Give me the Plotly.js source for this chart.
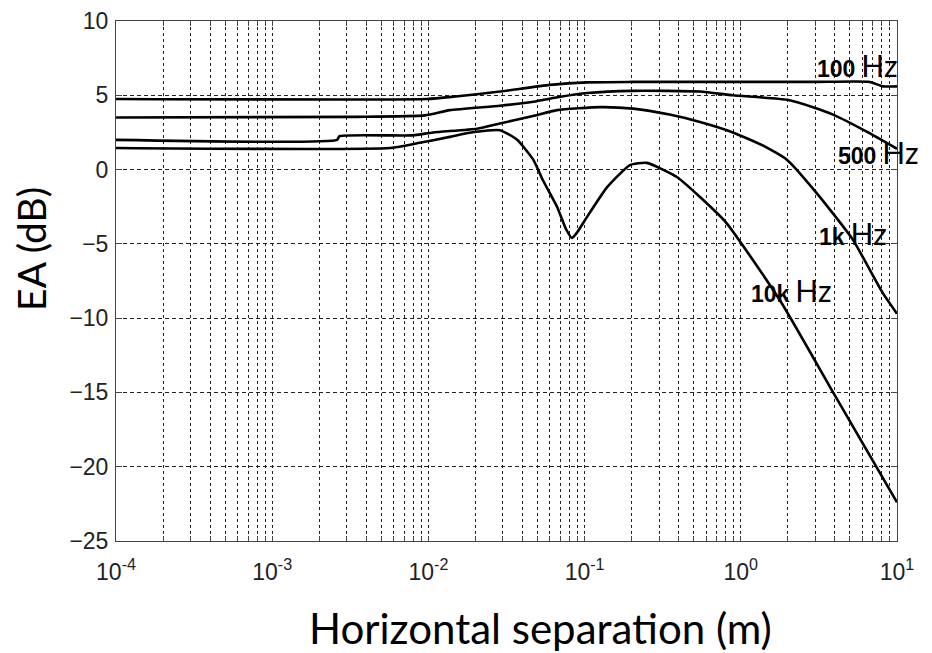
<!DOCTYPE html>
<html>
<head>
<meta charset="utf-8">
<script src="https://cdn.plot.ly/plotly-3.0.1.min.js"></script>
<style>html,body{margin:0;padding:0;background:#fff;}#chart{width:932px;height:653px;}</style>
</head>
<body>
<div id="chart"></div>
<script>
// Horizontal separation (m) and EA (dB) per frequency
var x100 = [1e-4, 0.0098, 0.0144, 0.0287, 0.06, 0.104, 0.2, 1, 3, 6.7, 8.1, 10];
var y100 = [4.75, 4.75, 4.9, 5.25, 5.7, 5.87, 5.9, 5.9, 5.9, 5.9, 5.6, 5.6];

var x500 = [1e-4, 0.0035, 0.0095, 0.0137, 0.0287, 0.047, 0.07, 0.104, 0.205, 0.548, 0.89, 1.98, 2.9, 3.9, 6.4, 10];
var y500 = [3.5, 3.55, 3.65, 4.0, 4.3, 4.57, 4.9, 5.15, 5.3, 5.25, 5.0, 4.7, 4.2, 3.7, 2.55, 1.4];

var x1k = [1e-4, 0.0026, 0.0027, 0.0079, 0.0107, 0.0205, 0.0287, 0.0467, 0.0666, 0.126, 0.205, 0.35, 0.548, 0.89, 1.4, 1.98, 3.07, 5.2, 8.1, 10];
var y1k = [2.0, 2.0, 2.25, 2.3, 2.5, 2.75, 3.1, 3.6, 4.0, 4.2, 4.1, 3.7, 3.2, 2.5, 1.6, 0.65, -1.6, -4.7, -8.3, -9.7];

var x10k = [1e-4, 0.0057, 0.0088, 0.0137, 0.0176, 0.0287, 0.037, 0.047, 0.054, 0.0666, 0.076, 0.083, 0.09, 0.1035, 0.139, 0.195, 0.25, 0.39, 0.548, 0.81, 1.78, 3.9, 10];
var y10k = [1.45, 1.45, 1.8, 2.2, 2.45, 2.65, 2.0, 0.65, -0.7, -2.5, -4.0, -4.6, -4.2, -3.2, -1.2, 0.3, 0.45, -0.5, -1.85, -3.6, -8.8, -15.0, -22.4];

var yTicks = [-25, -20, -15, -10, -5, 0, 5, 10];
var decades = [-4, -3, -2, -1, 0, 1];
var labelNums = ['100', '500', '1k', '10k'];

// x tick values: every 1..9 x decade (gridlines), labels only at decades
var xTickVals = [], xTickText = [];
decades.forEach(function (d, i) {
  var lim = (i === decades.length - 1) ? 1 : 9;
  for (var m = 1; m <= lim; m++) {
    xTickVals.push(m * Math.pow(10, d));
    xTickText.push(m === 1 ? '10<sup>' + d + '</sup>' : '');
  }
});

var series = [[x100, y100], [x500, y500], [x1k, y1k], [x10k, y10k]];
var traces = series.map(function (s) {
  return {
    x: s[0], y: s[1], type: 'scatter', mode: 'lines',
    line: {color: '#000', width: 2.6, shape: 'spline', smoothing: 0.5},
    hoverinfo: 'skip', showlegend: false
  };
});

var numFont = 'font-family:Liberation Sans,Arial,sans-serif;font-weight:bold;font-size:23px;';
var hzFont = 'font-family:Lato,sans-serif;font-size:30px;';
function lab(num) {
  return '<span style="' + numFont + '">' + num + '</span> <span style="' + hzFont + '">Hz</span>';
}
var labPos = [[0.895, 0.915], [0.922, 0.748], [0.897, 0.592], [0.81, 0.481]];
var annotations = labelNums.map(function (n, i) {
  return {
    xref: 'paper', yref: 'paper', x: labPos[i][0], y: labPos[i][1],
    xanchor: 'left', yanchor: 'middle', showarrow: false,
    text: lab(n), font: {color: '#000', size: 23}
  };
});
annotations.push({
  xref: 'paper', yref: 'paper', x: -0.109, y: 0.5615, textangle: -90,
  xanchor: 'center', yanchor: 'middle', showarrow: false,
  text: 'EA (dB)', font: {family: 'Lato, sans-serif', size: 39, color: '#000'}
});
annotations.push({
  xref: 'paper', yref: 'paper', x: 0.543, y: -0.167,
  xanchor: 'center', yanchor: 'middle', showarrow: false,
  text: 'Horizontal separation (m)', font: {family: 'Lato, sans-serif', size: 42, color: '#000'}
});

var layout = {
  width: 932, height: 653,
  margin: {l: 116, r: 35, t: 21, b: 112},
  paper_bgcolor: '#fff', plot_bgcolor: '#fff',
  showlegend: false,
  xaxis: {
    type: 'log', range: [-4, 1],
    tickmode: 'array', tickvals: xTickVals, ticktext: xTickText,
    showgrid: true, gridcolor: '#222', gridwidth: 1, griddash: '3px,3px',
    showline: true, linecolor: '#444', linewidth: 1, mirror: 'allticks',
    ticks: 'inside', ticklen: 5, tickcolor: '#444',
    ticklabelstandoff: 10,
    tickfont: {family: 'Liberation Sans, Arial, sans-serif', size: 23, color: '#222'},
    zeroline: false
  },
  yaxis: {
    range: [-25, 10],
    tickmode: 'array', tickvals: yTicks,
    showgrid: true, gridcolor: '#222', gridwidth: 1, griddash: '4px,3px',
    showline: true, linecolor: '#444', linewidth: 1, mirror: 'allticks',
    ticks: 'inside', ticklen: 6, tickcolor: '#444',
    ticklabelstandoff: 2,
    tickfont: {family: 'Liberation Sans, Arial, sans-serif', size: 23, color: '#222'},
    zeroline: false
  },
  annotations: annotations
};

Plotly.newPlot('chart', traces, layout, {displayModeBar: false, staticPlot: true});
</script>
</body>
</html>
